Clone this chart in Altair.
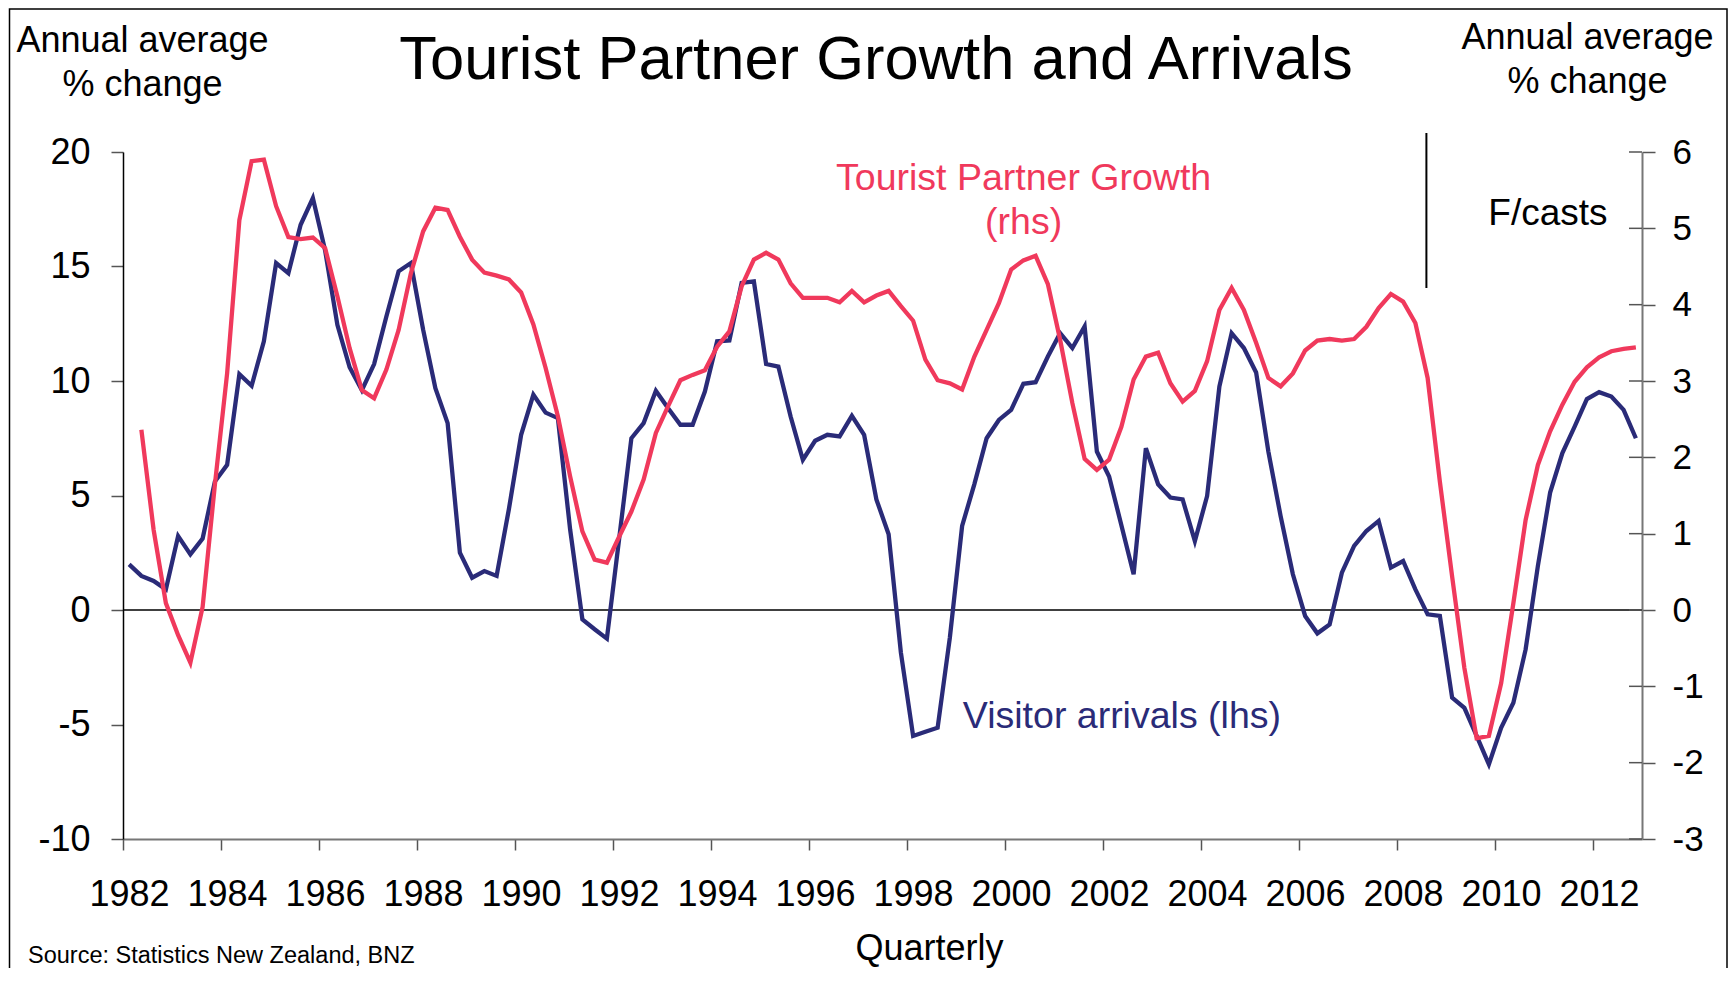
import altair as alt
import pandas as pd

FONT = "Liberation Sans"
NAVY = "#2A2B78"
RED = "#F0395C"

# Quarterly periods 1982Q1 .. 2012Q4
years = list(range(1982, 2013))
quarters = [f"{y}Q{q}" for y in years for q in (1, 2, 3, 4)]

# Visitor arrivals, annual average % change (lhs)
visitor_arrivals = [
    1.99, 1.49, 1.27, 0.90, 3.23, 2.43, 3.12, 5.61, 6.34, 10.30,
    9.79, 11.73, 15.15, 14.71, 16.82, 17.99, 15.70, 12.45, 10.60, 9.60,
    10.74, 12.82, 14.79, 15.15, 12.24, 9.69, 8.16, 2.50, 1.41, 1.70,
    1.49, 4.40, 7.65, 9.40, 8.62, 8.38, 3.52, -0.41, -0.84, -1.25,
    3.10, 7.50, 8.16, 9.57, 8.81, 8.09, 8.09, 9.54, 11.73, 11.77,
    14.28, 14.35, 10.74, 10.63, 8.45, 6.56, 7.39, 7.65, 7.58, 8.48,
    7.65, 4.83, 3.31, -1.86, -5.50, -5.32, -5.14, -1.20, 3.67, 5.50,
    7.50, 8.30, 8.74, 9.88, 9.95, 11.07, 12.09, 11.44, 12.38, 6.92,
    5.83, 3.70, 1.56, 7.07, 5.49, 4.91, 4.83, 3.01, 4.98, 9.76,
    12.09, 11.44, 10.37, 6.92, 4.10, 1.56, -0.26, -1.02, -0.63, 1.63,
    2.80, 3.45, 3.89, 1.85, 2.14, 0.90, -0.19, -0.26, -3.83, -4.27,
    -5.50, -6.74, -5.14, -4.05, -1.72, 1.92, 5.13, 6.85, 8.01, 9.21,
    9.51, 9.32, 8.74, 7.50,
]

# Tourist partner growth, annual average % change (rhs)
tourist_partner = [
    None, 2.36, 1.05, 0.09, -0.33, -0.69, 0.04, 1.64, 3.10, 5.11,
    5.88, 5.90, 5.29, 4.885, 4.86, 4.88, 4.74, 4.11, 3.43, 2.88,
    2.775, 3.15, 3.67, 4.41, 4.96, 5.27, 5.24, 4.89, 4.59, 4.42,
    4.38, 4.33, 4.16, 3.74, 3.17, 2.54, 1.75, 1.03, 0.66, 0.62,
    0.96, 1.29, 1.71, 2.32, 2.67, 3.01, 3.08, 3.14, 3.45, 3.65,
    4.24, 4.59, 4.68, 4.59, 4.28, 4.09, 4.09, 4.09, 4.03, 4.18,
    4.03, 4.12, 4.18, 3.98, 3.79, 3.28, 3.01, 2.97, 2.89, 3.32,
    3.67, 4.02, 4.46, 4.58, 4.64, 4.27, 3.54, 2.71, 1.98, 1.835,
    1.97, 2.40, 3.02, 3.32, 3.37, 2.97, 2.73, 2.87, 3.26, 3.93,
    4.22, 3.93, 3.50, 3.04, 2.93, 3.10, 3.40, 3.53, 3.55, 3.53,
    3.55, 3.71, 3.955, 4.14, 4.04, 3.76, 3.04, 1.68, 0.44, -0.76,
    -1.68, -1.65, -0.96, 0.09, 1.18, 1.90, 2.34, 2.69, 2.99, 3.18,
    3.31, 3.39, 3.42, 3.44,
]

x_ticks = list(range(1982, 2013, 2))
left_ticks = [-10, -5, 0, 5, 10, 15, 20]
right_ticks = [-3, -2, -1, 0, 1, 2, 3, 4, 5, 6]


def qpos(label):
    y, q = label.split("Q")
    return int(y) + (int(q) - 0.5) / 4


df = pd.DataFrame({
    "quarter": quarters,
    "t": [qpos(q) for q in quarters],
    "visitors": visitor_arrivals,
    "partner": tourist_partner,
})
df_red = df.dropna(subset=["partner"])

W, H = 1519, 687
LEFT = alt.Scale(domain=[-10, 20], nice=False, zero=False)
RIGHT = alt.Scale(domain=[-3, 6], nice=False, zero=False)
NEG = "datum.value < 0 ? '-' + format(-datum.value, 'd') : format(datum.value, 'd')"

X = alt.X(
    "t:Q",
    scale=alt.Scale(domain=[1982, 2013], nice=False, zero=False),
    axis=alt.Axis(
        values=x_ticks, format="d", labelFontSize=36, labelOffset=6,
        labelFlush=False, labelOverlap=False, labelBound=False, labelPadding=27,
        tickSize=11, tickWidth=1.5, tickColor="#555", domainColor="#777",
        domainWidth=2, grid=False, labelColor="black",
        title="Quarterly", titleFontSize=36, titleFontWeight="normal",
        titleX=806, titleY=120, titleAlign="center", titleBaseline="alphabetic",
        titleColor="black",
    ),
)

blue_line = alt.Chart(df).mark_line(color=NAVY, strokeWidth=4.3).encode(
    x=X,
    y=alt.Y(
        "visitors:Q", scale=LEFT,
        axis=alt.Axis(
            values=left_ticks, labelExpr=NEG, labelFontSize=36, labelPadding=21,
            tickSize=12, tickWidth=1.5, tickColor="#555", domainColor="black",
            domainWidth=1.5, grid=False, labelColor="black",
            title=["Annual average", "% change"], titleAngle=0,
            titleFontSize=36, titleFontWeight="normal", titleAlign="center",
            titleBaseline="alphabetic", titleX=19, titleY=-101,
            titleLineHeight=44, titleColor="black",
        ),
    ),
)

red_line = alt.Chart(df_red).mark_line(color=RED, strokeWidth=4.3).encode(
    x=X,
    y=alt.Y(
        "partner:Q", scale=RIGHT,
        axis=alt.Axis(
            orient="right", values=right_ticks, labelExpr=NEG, labelFontSize=35,
            labelPadding=17, tickSize=13, tickWidth=1.5, tickColor="#555",
            domainColor="#777", domainWidth=2, grid=False, labelColor="black",
            title=["Annual average", "% change"], titleAngle=0,
            titleFontSize=36, titleFontWeight="normal", titleAlign="center",
            titleBaseline="alphabetic", titleX=-55, titleY=-104,
            titleLineHeight=44, titleColor="black",
        ),
    ),
)

# inner half of the right-hand axis ticks (they cross the axis line)
rt_df = pd.DataFrame({"v": right_ticks})
right_inner_ticks = alt.Chart(rt_df).mark_rule(color="#555", strokeWidth=1.5).encode(
    y=alt.Y("v:Q", scale=RIGHT, axis=None),
    x=alt.value(W - 13),
    x2=alt.value(W),
)

zero_df = pd.DataFrame({"v": [0]})
zero_rule = alt.Chart(zero_df).mark_rule(color="black", strokeWidth=1.5).encode(
    y=alt.Y("v:Q", scale=LEFT, axis=None)
)

# forecast separator
fc_df = pd.DataFrame({"t": [2008.6], "top": [20.83], "bottom": [14.06]})
fc_rule = alt.Chart(fc_df).mark_rule(color="black", strokeWidth=2).encode(
    x=X,
    y=alt.Y("top:Q", scale=LEFT, axis=None),
    y2="bottom:Q",
)

lab_red = pd.DataFrame({"t": [2000.38], "v": [18.35], "label": ["Tourist Partner Growth\n(rhs)"]})
red_text = alt.Chart(lab_red).mark_text(
    color=RED, fontSize=37.5, align="center", baseline="alphabetic",
    lineBreak="\n", lineHeight=44, font=FONT,
).encode(x=X, y=alt.Y("v:Q", scale=LEFT, axis=None), text="label:N")

lab_blue = pd.DataFrame({"t": [1999.14], "v": [-5.16], "label": ["Visitor arrivals (lhs)"]})
blue_text = alt.Chart(lab_blue).mark_text(
    color=NAVY, fontSize=37.5, align="left", baseline="alphabetic", font=FONT,
).encode(x=X, y=alt.Y("v:Q", scale=LEFT, axis=None), text="label:N")

lab_fc = pd.DataFrame({"t": [2011.08], "v": [16.82], "label": ["F/casts"]})
fc_text = alt.Chart(lab_fc).mark_text(
    color="black", fontSize=37, align="center", baseline="alphabetic", font=FONT,
).encode(x=X, y=alt.Y("v:Q", scale=LEFT, axis=None), text="label:N")

title_df = pd.DataFrame({"label": ["Tourist Partner Growth and Arrivals"]})
title_text = alt.Chart(title_df).mark_text(
    color="black", fontSize=61.5, align="center", baseline="alphabetic", font=FONT,
).encode(x=alt.value(753), y=alt.value(-73), text="label:N")

src_df = pd.DataFrame({"label": ["Source: Statistics New Zealand, BNZ"]})
src_text = alt.Chart(src_df).mark_text(
    color="black", fontSize=23.5, align="left", baseline="alphabetic", font=FONT,
).encode(x=alt.value(-95), y=alt.value(811), text="label:N")

frame_df = pd.DataFrame({"k": [1]})
frame = alt.Chart(frame_df).mark_rect(
    fill="white", fillOpacity=0, stroke="black", strokeWidth=1.5
).encode(
    x=alt.value(-113.5), x2=alt.value(1604), y=alt.value(-143), y2=alt.value(900)
)

chart = alt.layer(
    frame, zero_rule, blue_line, red_line, right_inner_ticks, fc_rule,
    red_text, blue_text, fc_text, title_text, src_text,
).resolve_scale(y="independent").properties(
    width=W, height=H,
    padding={"left": 115, "top": 144, "right": 86, "bottom": 129},
    autosize=alt.AutoSizeParams(type="none"),
    background="white",
).configure_view(stroke=None).configure_axis(
    labelFont=FONT, titleFont=FONT
).configure_text(font=FONT)

chart.save("out.html", embed_options={"renderer": "svg", "actions": False})
